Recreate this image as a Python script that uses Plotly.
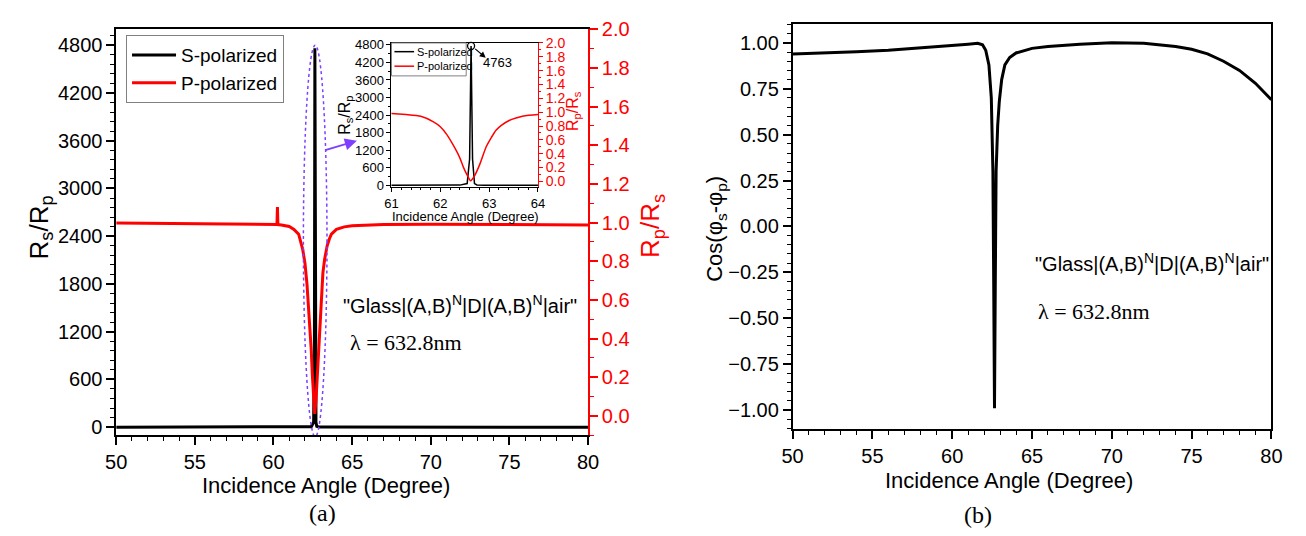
import plotly.graph_objects as go

W, H = 1306, 536

# ---- data -------------------------------------------------------------
# S-polarized reflectance ratio Rs/Rp versus incidence angle (degrees)
s_angle = [50, 55, 60, 62.0, 62.4, 62.55, 62.6, 62.63, 62.66, 62.7, 62.75, 62.9, 63.3, 65, 70, 75, 80]
s_ratio = [0, 0, 0, 1, 6, 60, 900, 4763, 900, 60, 10, 2, 1, 0, 0, 0, 0]

# P-polarized reflectance ratio Rp/Rs versus incidence angle (degrees)
p_angle = [50, 52, 54, 56, 58, 60, 60.22, 60.25, 60.28, 60.5, 61.0, 61.3, 61.6, 61.86,
           62.0, 62.13, 62.3, 62.4, 62.47, 62.55, 62.62, 62.7, 62.81, 62.94, 63.05, 63.14,
           63.25, 63.41, 63.55, 63.68, 64.0, 64.5, 65, 67, 70, 75, 80]
p_ratio = [0.998, 0.997, 0.996, 0.995, 0.993, 0.99, 0.99, 1.08, 0.99, 0.988, 0.98, 0.965, 0.94, 0.86,
           0.79, 0.68, 0.48, 0.34, 0.21, 0.09, 0.01, 0.08, 0.25, 0.5, 0.64, 0.74,
           0.81, 0.88, 0.915, 0.94, 0.965, 0.978, 0.984, 0.99, 0.991, 0.99, 0.988]

# Phase-difference cosine cos(phi_s - phi_p) versus incidence angle (degrees)
cos_angle = [50, 52, 54, 56, 58, 60, 61, 61.6, 61.9, 62.1, 62.3, 62.45, 62.55, 62.6, 62.65,
             62.7, 62.75, 62.85, 62.95, 63.1, 63.3, 63.6, 64, 65, 66, 68, 70, 72, 74, 75,
             76, 77, 78, 79, 80]
cos_phase = [0.94, 0.945, 0.952, 0.96, 0.972, 0.985, 0.993, 0.998, 0.99, 0.96, 0.88, 0.7, 0.3, -0.3, -0.99,
             -0.3, 0.3, 0.55, 0.68, 0.8, 0.88, 0.92, 0.945, 0.97, 0.98, 0.993, 1.0, 0.998, 0.98, 0.965,
             0.94, 0.9, 0.85, 0.78, 0.69]

peak_angle = 62.63
peak_value = 4763

# tick labels
angle_ticks = [50, 55, 60, 65, 70, 75, 80]
rs_ticks = [0, 600, 1200, 1800, 2400, 3000, 3600, 4200, 4800]
rp_ticks = [0.0, 0.2, 0.4, 0.6, 0.8, 1.0, 1.2, 1.4, 1.6, 1.8, 2.0]
cos_ticks = [-1.0, -0.75, -0.5, -0.25, 0.0, 0.25, 0.5, 0.75, 1.0]
inset_angle_ticks = [61, 62, 63, 64]

# ---- styling helpers -------------------------------------------------
SANS = "Liberation Sans"
SERIF = "Liberation Serif"
RED = "#ff0000"
PURPLE = "#7f3fff"


def px(x):
    return x / W


def py(y):
    return 1 - y / H


def axis(domain, rng, tickvals, color="black", size=20, ticklen=8, minor_dtick=None,
         fmt=None, **kw):
    # major ticks run linearly through the listed tick values
    d = dict(domain=domain, range=rng, tickmode="linear", tick0=tickvals[0],
             dtick=tickvals[1] - tickvals[0],
             ticks="outside", ticklen=ticklen, tickwidth=1.5, tickcolor=color,
             showline=True, linecolor=color, linewidth=1.5, showgrid=False,
             zeroline=False, tickfont=dict(family=SANS, size=size, color=color))
    if fmt:
        d["tickformat"] = fmt
    if minor_dtick:
        d["minor"] = dict(tickmode="linear", dtick=minor_dtick, tick0=tickvals[0],
                          ticks="outside", ticklen=max(2, ticklen // 2),
                          tickwidth=1, tickcolor=color, showgrid=False)
    d.update(kw)
    return d


fig = go.Figure()

# panel (a): main curves
fig.add_trace(go.Scatter(x=s_angle, y=s_ratio, xaxis="x", yaxis="y", mode="lines",
                         name="S-polarized", line=dict(color="black", width=3)))
fig.add_trace(go.Scatter(x=p_angle, y=p_ratio, xaxis="x", yaxis="y2", mode="lines",
                         name="P-polarized", line=dict(color=RED, width=3)))

# panel (a): zoomed inset
fig.add_trace(go.Scatter(x=s_angle, y=s_ratio, xaxis="x4", yaxis="y4", mode="lines",
                         showlegend=False, line=dict(color="black", width=1.5)))
fig.add_trace(go.Scatter(x=p_angle, y=p_ratio, xaxis="x4", yaxis="y5", mode="lines",
                         showlegend=False, line=dict(color=RED, width=1.5, shape="spline",
                                                     smoothing=0.6)))
fig.add_trace(go.Scatter(x=[peak_angle], y=[peak_value], xaxis="x4", yaxis="y4",
                         mode="markers", showlegend=False, cliponaxis=False,
                         marker=dict(symbol="circle-open", size=7, color="black",
                                     line=dict(width=1.3))))

# panel (b)
fig.add_trace(go.Scatter(x=cos_angle, y=cos_phase, xaxis="x3", yaxis="y3", mode="lines",
                         showlegend=False, line=dict(color="black", width=3)))

layout = dict(
    width=W, height=H, autosize=False,
    margin=dict(l=0, r=0, t=0, b=0),
    paper_bgcolor="white", plot_bgcolor="white",
    font=dict(family=SANS, color="black"),
    xaxis=axis([px(107), px(587)], [50, 80], angle_ticks, minor_dtick=1,
               anchor="y", mirror=True),
    yaxis=axis([py(438), py(19)], [-100, 5000], rs_ticks, minor_dtick=120, anchor="x"),
    yaxis2=axis([py(438), py(19)], [-0.1, 2.0], rp_ticks, color=RED, minor_dtick=0.1,
                fmt=".1f", anchor="x", overlaying="y", side="right"),
    xaxis3=axis([px(795), px(1282)], [50, 80], angle_ticks, minor_dtick=1,
                anchor="y3", mirror=True),
    yaxis3=axis([py(432), py(13)], [-1.105, 1.105], cos_ticks, minor_dtick=0.05,
                fmt=".2f", anchor="x3", mirror=True),
    xaxis4=axis([px(387), px(536)], [61, 64], inset_angle_ticks, size=13, ticklen=4,
                minor_dtick=0.2, anchor="y4", mirror=True, linewidth=1, tickwidth=1),
    yaxis4=axis([py(182), py(33)], [-66, 4866], rs_ticks, size=13, ticklen=4,
                minor_dtick=300, anchor="x4", linewidth=1, tickwidth=1),
    yaxis5=axis([py(182), py(33)], [-0.084, 2.0], rp_ticks, color=RED, size=14, ticklen=4,
                minor_dtick=0.1, fmt=".1f", anchor="x4", overlaying="y4", side="right",
                linewidth=1, tickwidth=1),
    legend=dict(x=px(117), y=py(25), xanchor="left", yanchor="top",
                bgcolor="white", bordercolor="#808080", borderwidth=1,
                font=dict(family=SANS, size=19, color="black"),
                tracegroupgap=0, itemwidth=44),
    showlegend=True,
)
fig.update_layout(**layout)

ann = []
shapes = []


def text(x, y, s, size, family=SANS, color="black", angle=0, xanchor="center"):
    ann.append(dict(x=px(x), y=py(y), xref="paper", yref="paper", text=s, showarrow=False,
                    xanchor=xanchor, yanchor="middle", textangle=angle,
                    font=dict(family=family, size=size, color=color)))


# axis titles
text(30, 223, "R<sub>s</sub>/R<sub>p</sub>", 26, angle=-90)
text(652, 222, "R<sub>p</sub>/R<sub>s</sub>", 26, color=RED, angle=-90)
text(320, 490, "Incidence Angle (Degree)", 22)
text(317, 518, "(a)", 24, family=SERIF)
text(717, 225, "Cos(\u03c6<sub>s</sub>-\u03c6<sub>p</sub>)", 22, angle=-90)
text(1015, 485, "Incidence Angle (Degree)", 22)
text(984, 520, "(b)", 24, family=SERIF)

# structure labels
structure = "\"Glass|(A,B)<sup>N</sup>|D|(A,B)<sup>N</sup>|air\""
text(457, 303, structure, 20)
text(343, 342, "\u03bb = 632.8nm", 22, family=SERIF, xanchor="left")
text(1161, 260, structure, 20)
text(1043, 310, "\u03bb = 632.8nm", 22, family=SERIF, xanchor="left")

# inset labels
text(340, 108, "R<sub>s</sub>/R<sub>p</sub>", 16, angle=-90)
text(572, 103, "R<sub>p</sub>/R<sub>s</sub>", 16, color=RED, angle=-90)
text(462, 212, "Incidence Angle (Degree)", 13)
text(495, 53, str(peak_value), 13)

# arrow from the peak marker towards its value label
ann.append(dict(x=peak_angle + 0.30, y=peak_value - 400, xref="x4", yref="y4",
                ax=-12, ay=-10, axref="pixel", ayref="pixel", text="", showarrow=True,
                arrowhead=2, arrowsize=1, arrowwidth=1.2, arrowcolor="black"))

# inset legend
shapes.append(dict(type="rect", xref="paper", yref="paper", x0=px(387), x1=px(463),
                   y0=py(67), y1=py(33), line=dict(color="#808080", width=1),
                   fillcolor="white"))
for yy, col, lab in [(42, "black", "S-polarized"), (57, RED, "P-polarized")]:
    shapes.append(dict(type="line", xref="paper", yref="paper", x0=px(390), x1=px(410),
                       y0=py(yy), y1=py(yy), line=dict(color=col, width=1.5)))
    text(411, yy, lab, 11, xanchor="left")

# dotted ellipse marking the resonance and the arrow pointing to the inset
shapes.append(dict(type="circle", xref="x", yref="y", x0=61.9, x1=63.4, y0=-120, y1=4800,
                   line=dict(color=PURPLE, width=1.5, dash="dot")))
ann.append(dict(x=65.3, y=3600, xref="x", yref="y", ax=63.2, ay=3477, axref="x", ayref="y",
                text="", showarrow=True, arrowhead=2, arrowsize=1.2, arrowwidth=2,
                arrowcolor=PURPLE))

fig.update_layout(annotations=ann, shapes=shapes)
fig.write_html("out.html")
